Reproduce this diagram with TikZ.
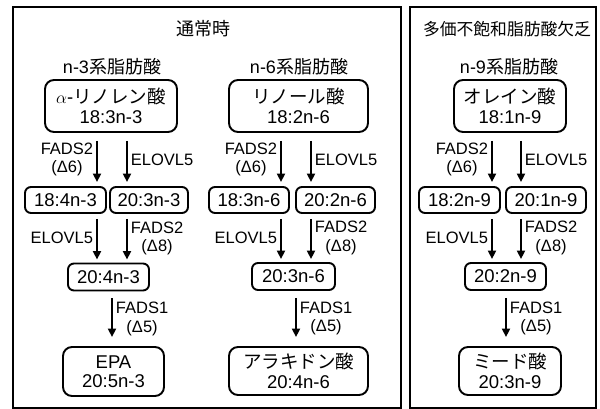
\documentclass[tikz,border=0pt]{standalone}
\usepackage{fontspec}
\setmainfont{Liberation Sans}
\newfontfamily\jp{Noto Sans CJK JP}
\usetikzlibrary{arrows.meta}
\begin{document}
\begin{tikzpicture}[x=1pt,y=-1pt,
  box/.style={draw, line width=1.9pt, rounded corners=6pt, align=center, inner sep=0pt, minimum height=26pt, font=\fontsize{18.5}{19.5}\selectfont},
  bigbox/.style={box, rounded corners=9pt},
  lab/.style={align=center, inner sep=3pt, font=\fontsize{16.5}{18.5}\selectfont},
  head/.style={inner sep=0pt, font=\fontsize{18}{20}\selectfont},
  arr/.style={line width=1.9pt, -{Triangle[length=8.5pt,width=8pt]}},
  r1/.style={shorten <=8pt, shorten >=4pt},
  r2/.style={shorten <=5pt, shorten >=3pt},
  r3/.style={shorten <=7pt, shorten >=9pt},
  frame/.style={draw, line width=1.9pt}]
\useasboundingbox (0,0) rectangle (600,409);
% frames
\draw[frame] (13,7) rectangle (401,408);
\draw[frame] (410,7) rectangle (596,408);
\node[head] (tnorm) at (203,29) {\jp 通常時};
\node[head, font=\fontsize{16.8}{20}\selectfont] (tdef) at (507,29) {\jp 多価不飽和脂肪酸欠乏};
% helper x positions
\coordinate (xa1) at (97,0);  \coordinate (xa2) at (127,0); \coordinate (xa3) at (112,0);
\coordinate (xb1) at (281,0); \coordinate (xb2) at (311,0); \coordinate (xb3) at (296,0);
\coordinate (xc1) at (492,0); \coordinate (xc2) at (521,0); \coordinate (xc3) at (506,0);
% n-3
\node[head] (t3) at (112,67) {n-3{\jp 系脂肪酸}};
\node[bigbox, minimum width=132pt, minimum height=52pt] (ala) at (111,106) {$\alpha$-{\jp リノレン酸}\\18:3n-3};
\node[box, minimum width=81pt] (a1) at (65.5,200) {18:4n-3};
\node[box, minimum width=78pt] (a2) at (149,200) {20:3n-3};
\node[box, minimum width=81pt, minimum height=27pt] (a3) at (108.5,277) {20:4n-3};
\node[bigbox, minimum width=101pt, minimum height=49pt] (epa) at (113.5,371.5) {EPA\\20:5n-3};
\draw[arr,r1] (ala.south -| xa1) -- (a1.north -| xa1) node[midway, left, lab] {FADS2\\(Δ6)};
\draw[arr,r1] (ala.south -| xa2) -- (a2.north -| xa2) node[midway, right, lab] {ELOVL5};
\draw[arr,r2] (a1.south -| xa1) -- (a3.north -| xa1) node[midway, left, lab] {ELOVL5};
\draw[arr,r2] (a2.south -| xa2) -- (a3.north -| xa2) node[midway, right, lab] {FADS2\\(Δ8)};
\draw[arr,r3] (a3.south -| xa3) -- (epa.north -| xa3) node[midway, right, lab] {FADS1\\(Δ5)};
% n-6
\node[head] (t6) at (299,67) {n-6{\jp 系脂肪酸}};
\node[bigbox, minimum width=139pt, minimum height=52pt] (la) at (298.5,106) {{\jp リノール酸}\\18:2n-6};
\node[box, minimum width=80pt] (b1) at (249,200) {18:3n-6};
\node[box, minimum width=79pt] (b2) at (335.5,200) {20:2n-6};
\node[box, minimum width=83pt, minimum height=27pt] (b3) at (293.5,276.5) {20:3n-6};
\node[bigbox, minimum width=139pt, minimum height=48pt] (ara) at (298.5,371) {{\jp アラキドン酸}\\20:4n-6};
\draw[arr,r1] (la.south -| xb1) -- (b1.north -| xb1) node[midway, left, lab] {FADS2\\(Δ6)};
\draw[arr,r1] (la.south -| xb2) -- (b2.north -| xb2) node[midway, right, lab] {ELOVL5};
\draw[arr,r2] (b1.south -| xb1) -- (b3.north -| xb1) node[midway, left, lab] {ELOVL5};
\draw[arr,r2] (b2.south -| xb2) -- (b3.north -| xb2) node[midway, right, lab] {FADS2\\(Δ8)};
\draw[arr,r3] (b3.south -| xb3) -- (ara.north -| xb3) node[midway, right, lab] {FADS1\\(Δ5)};
% n-9
\node[head] (t9) at (509,67) {n-9{\jp 系脂肪酸}};
\node[bigbox, minimum width=112pt, minimum height=52pt] (ole) at (510,106) {{\jp オレイン酸}\\18:1n-9};
\node[box, minimum width=81pt] (c1) at (459.5,200) {18:2n-9};
\node[box, minimum width=80pt] (c2) at (546,200) {20:1n-9};
\node[box, minimum width=81pt, minimum height=27pt] (c3) at (505.5,276.5) {20:2n-9};
\node[bigbox, minimum width=102pt, minimum height=48pt] (mead) at (510,371) {{\jp ミード酸}\\20:3n-9};
\draw[arr,r1] (ole.south -| xc1) -- (c1.north -| xc1) node[midway, left, lab] {FADS2\\(Δ6)};
\draw[arr,r1] (ole.south -| xc2) -- (c2.north -| xc2) node[midway, right, lab] {ELOVL5};
\draw[arr,r2] (c1.south -| xc1) -- (c3.north -| xc1) node[midway, left, lab] {ELOVL5};
\draw[arr,r2] (c2.south -| xc2) -- (c3.north -| xc2) node[midway, right, lab] {FADS2\\(Δ8)};
\draw[arr,r3] (c3.south -| xc3) -- (mead.north -| xc3) node[midway, right, lab] {FADS1\\(Δ5)};
\end{tikzpicture}
\end{document}
